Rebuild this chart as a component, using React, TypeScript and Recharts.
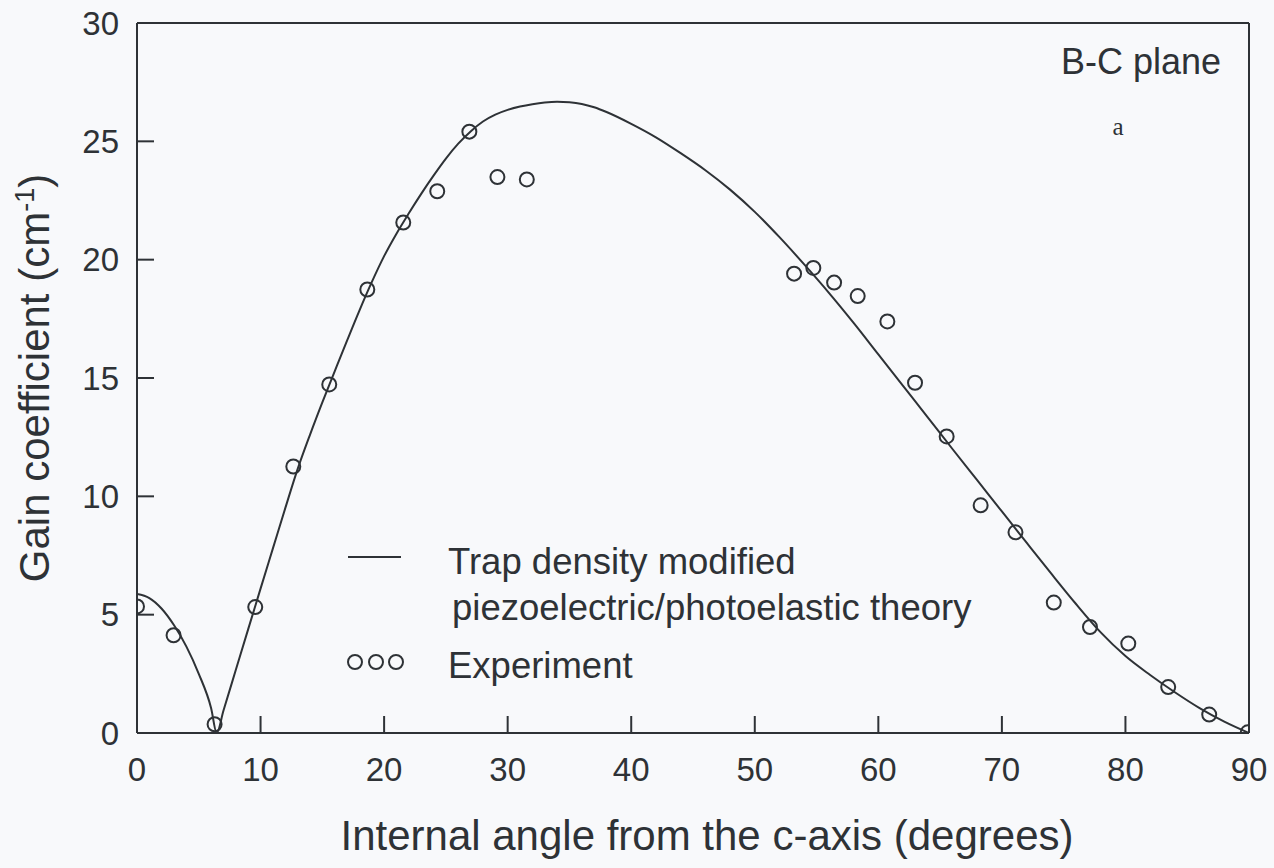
import React from 'react';
import {
  ComposedChart, Line, Scatter, XAxis, YAxis, ReferenceLine
} from 'recharts';

// theory curve
const thetaTheory = [
  0, 1, 2, 3, 4, 5, 6, 6.45, 7, 8, 9, 10, 11, 12, 13, 14, 15, 16, 17, 18, 19, 20, 21, 22,
  23, 24, 25, 26, 27, 28, 29, 30, 31, 32, 33, 34, 35, 36, 37, 38, 40, 42, 44, 46, 48, 50,
  52, 54, 56, 58, 60, 62, 64, 66, 68, 70, 72, 74, 76, 78, 80, 82, 84, 86, 88, 90,
];
const gainTheory = [
  5.87, 5.7, 5.25, 4.55, 3.65, 2.5, 1.05, 0, 0.95, 2.67, 4.39, 6.1, 7.8, 9.5, 11.15, 12.6,
  13.97, 15.28, 16.58, 17.85, 19.05, 20.15, 21.1, 21.96, 22.78, 23.55, 24.27, 24.9, 25.42,
  25.84, 26.13, 26.33, 26.47, 26.57, 26.64, 26.67, 26.65, 26.58, 26.44, 26.24, 25.74, 25.17,
  24.5, 23.78, 22.96, 22.02, 20.95, 19.8, 18.6, 17.33, 16.0, 14.67, 13.34, 12.0, 10.68,
  9.36, 8.04, 6.73, 5.45, 4.25, 3.25, 2.45, 1.72, 1.05, 0.48, 0,
];

// experiment points
const thetaExp = [
  0, 2.96, 6.28, 9.57, 12.65, 15.56, 18.64, 21.55, 24.3, 26.9, 29.17, 31.55, 53.18, 54.74,
  56.42, 58.33, 60.73, 62.97, 65.53, 68.28, 71.1, 74.2, 77.13, 80.23, 83.46, 86.78, 89.9,
];
const gainExp = [
  5.35, 4.13, 0.37, 5.32, 11.26, 14.73, 18.74, 21.57, 22.89, 25.41, 23.49, 23.39, 19.41,
  19.65, 19.03, 18.46, 17.39, 14.8, 12.53, 9.62, 8.48, 5.51, 4.48, 3.78, 1.94, 0.78, 0.03,
];

const xTicks = [0, 10, 20, 30, 40, 50, 60, 70, 80, 90];
const yTicks = [0, 5, 10, 15, 20, 25, 30];

const theory = thetaTheory.map((x, i) => ({ x, gain: gainTheory[i] }));
const experiment = thetaExp.map((x, i) => ({ x, gain: gainExp[i] }));

const INK = '#2e3236';
const FONT = '"Liberation Sans", Arial, sans-serif';

const OpenCircle = (props: any) => (
  <circle cx={props.cx} cy={props.cy} r={7} fill="none" stroke={INK} strokeWidth={2} />
);

export default function App() {
  return (
    <div style={{ position: 'absolute', left: 0, top: 0, width: 1274, height: 868, background: '#f8f9fb' }}>
      <ComposedChart
        width={1274}
        height={868}
        margin={{ top: 23, right: 25, left: 77, bottom: 75 }}
        style={{ fontFamily: FONT }}
      >
        <XAxis
          type="number"
          dataKey="x"
          domain={[0, 90]}
          ticks={xTicks}
          height={60}
          tickSize={-17}
          tickMargin={42}
          axisLine={{ stroke: INK, strokeWidth: 2 }}
          tickLine={{ stroke: INK, strokeWidth: 2 }}
          tick={{ fill: INK, fontSize: 33, fontFamily: FONT }}
          allowDataOverflow
        />
        <YAxis
          type="number"
          domain={[0, 30]}
          ticks={yTicks}
          width={60}
          tickSize={-17}
          tickMargin={35}
          axisLine={{ stroke: INK, strokeWidth: 2 }}
          tickLine={{ stroke: INK, strokeWidth: 2 }}
          tick={{ fill: INK, fontSize: 33, fontFamily: FONT }}
          allowDataOverflow
        />
        <ReferenceLine y={30} stroke={INK} strokeWidth={2} />
        <ReferenceLine x={90} stroke={INK} strokeWidth={2} />
        <Line
          data={theory}
          dataKey="gain"
          type="monotone"
          stroke={INK}
          strokeWidth={2}
          dot={false}
          isAnimationActive={false}
        />
        <Scatter
          data={experiment}
          dataKey="gain"
          shape={OpenCircle}
          isAnimationActive={false}
        />

        {/* axis titles */}
        <text x={707} y={850} textAnchor="middle" fontSize={42} fill={INK} fontFamily={FONT}>
          Internal angle from the c-axis (degrees)
        </text>
        <text
          transform="translate(49, 378) rotate(-90)"
          textAnchor="middle"
          fontSize={42}
          fill={INK}
          fontFamily={FONT}
        >
          Gain coefficient (cm<tspan dy={-15} fontSize={27}>-1</tspan><tspan dy={15}>)</tspan>
        </text>

        {/* annotations */}
        <text x={1221} y={74} textAnchor="end" fontSize={36} fill={INK} fontFamily={FONT}>B-C plane</text>
        <text x={1118} y={135} textAnchor="middle" fontSize={25} fill={INK} fontFamily='"Liberation Serif", serif'>a</text>

        {/* legend */}
        <line x1={348} x2={401} y1={557} y2={557} stroke={INK} strokeWidth={2} />
        <text x={448} y={574} fontSize={36.5} fill={INK} fontFamily={FONT}>Trap density modified</text>
        <text x={452} y={620} fontSize={36.5} fill={INK} fontFamily={FONT}>piezoelectric/photoelastic theory</text>
        <circle cx={355} cy={662} r={7} fill="none" stroke={INK} strokeWidth={2} />
        <circle cx={376} cy={662} r={7} fill="none" stroke={INK} strokeWidth={2} />
        <circle cx={396} cy={662} r={7} fill="none" stroke={INK} strokeWidth={2} />
        <text x={448} y={678} fontSize={36.5} fill={INK} fontFamily={FONT}>Experiment</text>
      </ComposedChart>
    </div>
  );
}
